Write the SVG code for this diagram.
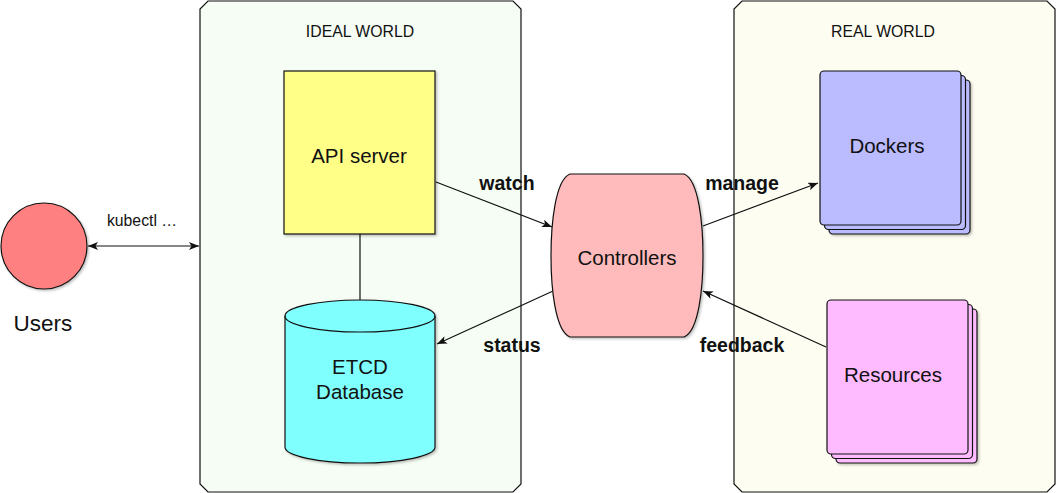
<svg xmlns="http://www.w3.org/2000/svg" width="1056" height="493" viewBox="0 0 1056 493">
<defs>
<style>
text{font-family:"Liberation Sans",Arial,sans-serif;fill:#111;text-anchor:middle;dominant-baseline:central}
.lbl{font-size:20.5px}
.small{font-size:15.8px}
.bold{font-size:19.5px;font-weight:bold}
.edge{stroke:#111;stroke-width:1.2;fill:none}
.shape{stroke:#111;stroke-width:1.2}
</style>
<marker id="ah" viewBox="0 0 10 8" refX="10" refY="4" markerWidth="10" markerHeight="8" markerUnits="userSpaceOnUse" orient="auto-start-reverse">
<path d="M0,0 L10,4 L0,8 L2.5,4 Z" fill="#111"/>
</marker>
<filter id="sh" x="-10%" y="-10%" width="130%" height="130%">
<feDropShadow dx="1.5" dy="1.5" stdDeviation="1.2" flood-color="#000" flood-opacity="0.25"/>
</filter>
</defs>
<rect width="1056" height="493" fill="#ffffff"/>
<g id="ideal-world">
<path d="M208,1 L513,1 L521,9 L521,484 L513,492 L208,492 L200,484 L200,9 Z" fill="#f6fdf5" class="shape"/>
<text x="360" y="31" class="small">IDEAL WORLD</text>
</g>
<g id="real-world">
<path d="M742,1 L1047,1 L1055,9 L1055,484 L1047,492 L742,492 L734,484 L734,9 Z" fill="#fdfdf1" class="shape"/>
<text x="883" y="31" class="small">REAL WORLD</text>
</g>
<g id="connectors">
<line x1="360" y1="234" x2="360" y2="300" class="edge"/>
<line x1="88" y1="246" x2="199" y2="246" class="edge" marker-start="url(#ah)" marker-end="url(#ah)"/>
<line x1="436" y1="182" x2="552" y2="227" class="edge" marker-end="url(#ah)"/>
<line x1="703" y1="226" x2="818" y2="183" class="edge" marker-end="url(#ah)"/>
<line x1="553" y1="291" x2="437" y2="344" class="edge" marker-end="url(#ah)"/>
<line x1="826" y1="347" x2="703" y2="291" class="edge" marker-end="url(#ah)"/>
<text x="142" y="220" class="small">kubectl …</text>
<text x="507" y="183" class="bold">watch</text>
<text x="742" y="183" class="bold">manage</text>
<text x="512" y="345" class="bold">status</text>
<text x="742" y="345" class="bold">feedback</text>
</g>
<g id="users">
<circle cx="44" cy="246" r="43" fill="#ff8080" class="shape" filter="url(#sh)"/>
<text x="43" y="323" style="font-size:22.5px">Users</text>
</g>
<g id="api-server">
<rect x="284" y="71" width="151" height="163" fill="#ffff88" class="shape" filter="url(#sh)"/>
<text x="359" y="155" class="lbl">API server</text>
</g>
<g id="etcd">
<path d="M285,316 L285,447 A75,16 0 0 0 435,447 L435,316 A75,16 0 0 0 285,316 Z" fill="#80ffff" class="shape" filter="url(#sh)"/>
<path d="M285,316 A75,16 0 0 0 435,316" fill="none" class="shape"/>
<text x="360" y="366" class="lbl">ETCD</text>
<text x="360" y="391" class="lbl">Database</text>
</g>
<g id="controllers">
<path d="M570,174 L684,174 C699,180 703,225 703,256 C703,287 699,331 684,337 L570,337 C555,331 551,287 551,256 C551,225 555,180 570,174 Z" fill="#ffbbbb" class="shape" filter="url(#sh)"/>
<text x="627" y="257" class="lbl">Controllers</text>
</g>
<g id="dockers">
<rect x="829" y="80" width="141" height="154" rx="4" fill="#bbbbff" class="shape" filter="url(#sh)"/>
<rect x="824.5" y="75.5" width="141" height="154" rx="4" fill="#bbbbff" class="shape"/>
<rect x="820" y="71" width="141" height="154" rx="4" fill="#bbbbff" class="shape"/>
<text x="887" y="145" class="lbl">Dockers</text>
</g>
<g id="resources">
<rect x="836" y="309" width="141" height="154" rx="4" fill="#ffbbff" class="shape" filter="url(#sh)"/>
<rect x="831.5" y="304.5" width="141" height="154" rx="4" fill="#ffbbff" class="shape"/>
<rect x="827" y="300" width="141" height="154" rx="4" fill="#ffbbff" class="shape"/>
<text x="893" y="374" class="lbl">Resources</text>
</g>
</svg>
